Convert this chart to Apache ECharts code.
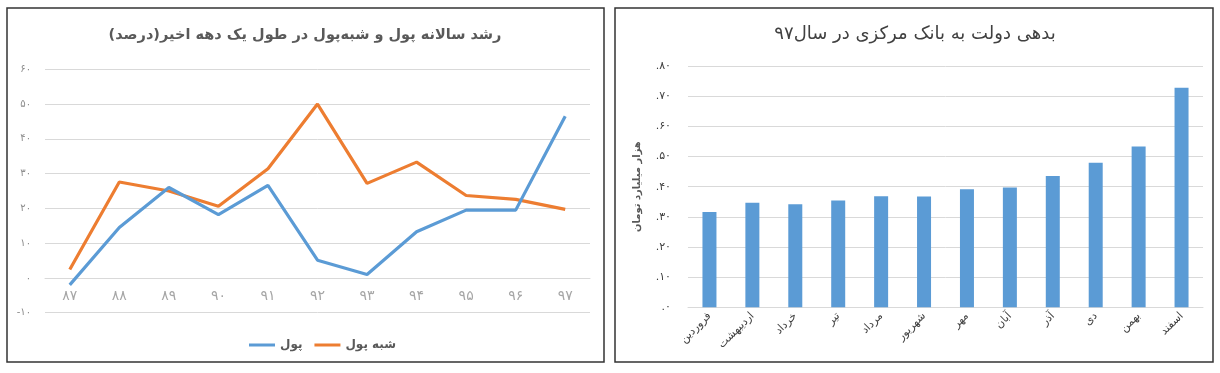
<!DOCTYPE html>
<html>
<head>
<meta charset="utf-8">
<script src="https://cdn.jsdelivr.net/npm/echarts@6/dist/echarts.min.js"></script>
<style>
html,body{margin:0;padding:0;background:#fff;}
#c{width:1220px;height:373px;}
</style>
</head>
<body>
<div id="c"></div>
<script>
// ---- Left chart data ----
const years = ['۸۷','۸۸','۸۹','۹۰','۹۱','۹۲','۹۳','۹۴','۹۵','۹۶','۹۷'];
const poolValues = [-2, 14.5, 26, 18.2, 26.6, 5.1, 1.0, 13.3, 19.5, 19.5, 46.5];
const quasiPoolValues = [2.4, 27.6, 25, 20.6, 31.4, 50, 27.2, 33.3, 23.7, 22.6, 19.7];
const leftTickValues = [-10, 0, 10, 20, 30, 40, 50, 60];
const leftTickLabels = ['-۱۰','۰','۱۰','۲۰','۳۰','۴۰','۵۰','۶۰'];
const leftTitle = 'رشد سالانه پول و شبه‌پول در طول یک دهه اخیر(درصد)';
const seriesNames = ['پول', 'شبه پول'];

// ---- Right chart data ----
const months = ['فروردین','اردیبهشت','خرداد','تیر','مرداد','شهریور','مهر','آبان','آذر','دی','بهمن','اسفند'];
const debtValues = [31.6, 34.7, 34.2, 35.4, 36.8, 36.7, 39.1, 39.7, 43.5, 47.9, 53.3, 72.8];
const rightTickValues = [0, 10, 20, 30, 40, 50, 60, 70, 80];
const rightTickLabels = ['.۰','.۱۰','.۲۰','.۳۰','.۴۰','.۵۰','.۶۰','.۷۰','.۸۰'];
const rightTitle = 'بدهی دولت به بانک مرکزی در سال۹۷';
const rightAxisName = 'هزار میلیارد تومان';

const FONT = "'DejaVu Sans', sans-serif";
const chart = echarts.init(document.getElementById('c'), null, {renderer: 'canvas'});

function tickLabel(values, labels) {
  return function (v) {
    const i = values.indexOf(Math.round(v));
    return i >= 0 ? labels[i] : '';
  };
}

chart.setOption({
  animation: false,
  backgroundColor: '#ffffff',
  graphic: [
    {type: 'rect', shape: {x: 7, y: 8, width: 597, height: 354}, style: {fill: 'none', stroke: '#333', lineWidth: 1.5}, z: 100},
    {type: 'rect', shape: {x: 615, y: 8, width: 598, height: 354}, style: {fill: 'none', stroke: '#333', lineWidth: 1.5}, z: 100},
    {type: 'text', x: 305, y: 35, style: {text: leftTitle, textAlign: 'center', textVerticalAlign: 'middle', font: "bold 14.5px 'DejaVu Sans', sans-serif", fill: '#595959'}},
    {type: 'text', x: 915, y: 34, style: {text: rightTitle, textAlign: 'center', textVerticalAlign: 'middle', font: "18px 'DejaVu Sans', sans-serif", fill: '#404040'}}
  ],
  legend: {
    data: seriesNames,
    left: 244,
    top: 334,
    icon: 'rect',
    itemWidth: 26,
    itemHeight: 3,
    itemGap: 12,
    textStyle: {fontFamily: FONT, fontSize: 12, fontWeight: 'bold', color: '#595959'}
  },
  grid: [
    {left: 45, top: 69.3, width: 545, height: 243.4},
    {left: 688, top: 66, width: 515, height: 241.3}
  ],
  xAxis: [
    {
      gridIndex: 0, type: 'category', data: years, boundaryGap: true,
      offset: -34.6,
      axisLine: {onZero: false, lineStyle: {color: '#d9d9d9', width: 1}},
      axisTick: {show: false},
      axisLabel: {fontFamily: FONT, fontSize: 14, color: '#a6a6a6', margin: 11}
    },
    {
      gridIndex: 1, type: 'category', data: months, boundaryGap: true,
      axisLine: {lineStyle: {color: '#d9d9d9', width: 1}},
      axisTick: {show: false},
      axisLabel: {fontFamily: FONT, fontSize: 11, color: '#404040', rotate: 45, margin: 7, interval: 0}
    }
  ],
  yAxis: [
    {
      gridIndex: 0, type: 'value', min: -10, max: 60, interval: 10,
      axisLine: {show: false}, axisTick: {show: false},
      splitLine: {lineStyle: {color: '#d9d9d9', width: 1}},
      axisLabel: {fontFamily: FONT, fontSize: 10, color: '#8c8c8c', margin: 14, formatter: tickLabel(leftTickValues, leftTickLabels)}
    },
    {
      gridIndex: 1, type: 'value', min: 0, max: 80, interval: 10,
      axisLine: {show: false}, axisTick: {show: false},
      splitLine: {lineStyle: {color: '#d9d9d9', width: 1}},
      axisLabel: {fontFamily: FONT, fontSize: 11, color: '#404040', margin: 17, formatter: tickLabel(rightTickValues, rightTickLabels)},
      name: rightAxisName, nameLocation: 'middle', nameRotate: 90, nameGap: 46,
      nameTextStyle: {fontFamily: FONT, fontSize: 10, fontWeight: 'bold', color: '#595959'}
    }
  ],
  series: [
    {
      name: seriesNames[0], type: 'line', xAxisIndex: 0, yAxisIndex: 0, data: poolValues,
      symbol: 'none', lineStyle: {color: '#5B9BD5', width: 3.2}, itemStyle: {color: '#5B9BD5'}, z: 3
    },
    {
      name: seriesNames[1], type: 'line', xAxisIndex: 0, yAxisIndex: 0, data: quasiPoolValues,
      symbol: 'none', lineStyle: {color: '#ED7D31', width: 3.2}, itemStyle: {color: '#ED7D31'}, z: 2
    },
    {
      name: 'debt', type: 'bar', xAxisIndex: 1, yAxisIndex: 1, data: debtValues,
      barWidth: 14, itemStyle: {color: '#5B9BD5'}
    }
  ]
});
</script>
</body>
</html>
